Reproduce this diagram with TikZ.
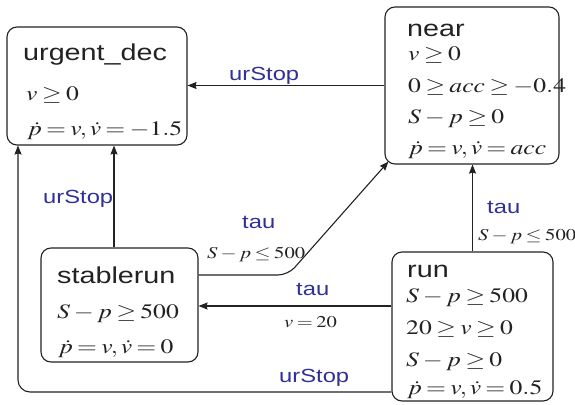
\documentclass[tikz,border=0pt]{standalone}
\usepackage{mathptmx}
\usepackage[no-math]{fontspec}
\usepackage{graphicx}
\usetikzlibrary{arrows.meta}
\newfontfamily\labfont{Liberation Sans}
\definecolor{lblue}{RGB}{48,48,150}
\definecolor{ink}{RGB}{34,34,34}
\newcommand{\sx}[1]{\scalebox{1.25}[1]{#1}}
\thickmuskip=3mu plus 2mu
\begin{document}
\begin{tikzpicture}[x=1pt,y=-1pt,
  box/.style={draw=ink, rounded corners=10pt, line width=1.1pt, inner sep=0pt, fill=white},
  ttl/.style={anchor=base west, inner sep=0pt, font=\labfont\fontsize{23}{27}\selectfont, text=ink},
  mth/.style={anchor=base west, inner sep=0pt, font=\fontsize{20.5}{24}\selectfont, text=ink},
  lbl/.style={anchor=base west, inner sep=0pt, font=\labfont\fontsize{19}{22}\selectfont, text=lblue},
  elm/.style={anchor=base west, inner sep=0pt, font=\fontsize{16.5}{19}\selectfont, text=ink},
  arr/.style={draw=ink, line width=1.1pt, -{Stealth[length=9pt,width=7pt,inset=1pt]}}]
\useasboundingbox (0,0) rectangle (575,404);
% boxes
\node[box, minimum width=180, minimum height=118] (urgent) at (97,86) {};
\node[box, minimum width=174, minimum height=157] (near) at (472,85.5) {};
\node[box, minimum width=157, minimum height=114] (stable) at (119.5,305) {};
\node[box, minimum width=161, minimum height=149] (run) at (472.5,326.5) {};
% urgent_dec text
\node[ttl] (u0) at (23,60) {\sx{urgent\_dec}};
\node[mth] (u1) at (26,100) {\sx{$v\geq 0$}};
\node[mth] (u2) at (27,135) {\sx{$\dot p=v,\dot v=-1.5$}};
% near text
\node[ttl] (n0) at (407,37) {\sx{near}};
\node[mth] (n1) at (408,60) {\sx{$v\geq 0$}};
\node[mth] (n2) at (408,92) {\sx{$0\geq acc\geq -0.4$}};
\node[mth] (n3) at (408,123) {\sx{$S-p\geq 0$}};
\node[mth] (n4) at (408,154) {\sx{$\dot p=v,\dot v=acc$}};
% stablerun text
\node[ttl] (s0) at (57,283) {\sx{stablerun}};
\node[mth] (s1) at (57,318) {\sx{$S-p\geq 500$}};
\node[mth] (s2) at (58,353) {\sx{$\dot p=v,\dot v=0$}};
% run text
\node[ttl] (r0) at (407,277) {\sx{run}};
\node[mth] (r1) at (406,302) {\sx{$S-p\geq 500$}};
\node[mth] (r2) at (406,334) {\sx{$20\geq v\geq 0$}};
\node[mth] (r3) at (406,366) {\sx{$S-p\geq 0$}};
\node[mth] (r4) at (407,394) {\sx{$\dot p=v,\dot v=0.5$}};
% helper coordinates
\coordinate (lc) at (18,392);
\coordinate (bend) at (288,275);
\coordinate (my) at (0,306);
\coordinate (vx) at (114,0);
% connectors
\draw[arr] (near.west) -- (near.west -| urgent.east);
\draw[arr] (vx |- stable.north) -- (vx |- urgent.south);
\draw[arr, rounded corners=12pt] (run.west |- lc) -- (lc) -- (lc |- urgent.south);
\draw[arr, rounded corners=10pt] (stable.east |- bend) -- (bend) -- ([shift={(4,-3)}]near.south west);
\draw[arr] (run.west |- my) -- (stable.east |- my);
\draw[arr] (run.north) -- (run.north |- near.south);
% labels
\node[lbl] (l1) at (229,81) {\sx{urStop}};
\node[lbl] (l2) at (43,203) {\sx{urStop}};
\node[lbl] (l3) at (279,382) {\sx{urStop}};
\node[lbl] (l4) at (242,228) {\sx{tau}};
\node[elm] (g4) at (207,258) {\sx{$S-p\leq 500$}};
\node[lbl] (l5) at (296,295) {\sx{tau}};
\node[elm] (g5) at (284,327) {\sx{$v=20$}};
\node[lbl] (l6) at (487,213) {\sx{tau}};
\node[elm] (g6) at (478,240) {\sx{$S-p\leq 500$}};
\end{tikzpicture}
\end{document}
